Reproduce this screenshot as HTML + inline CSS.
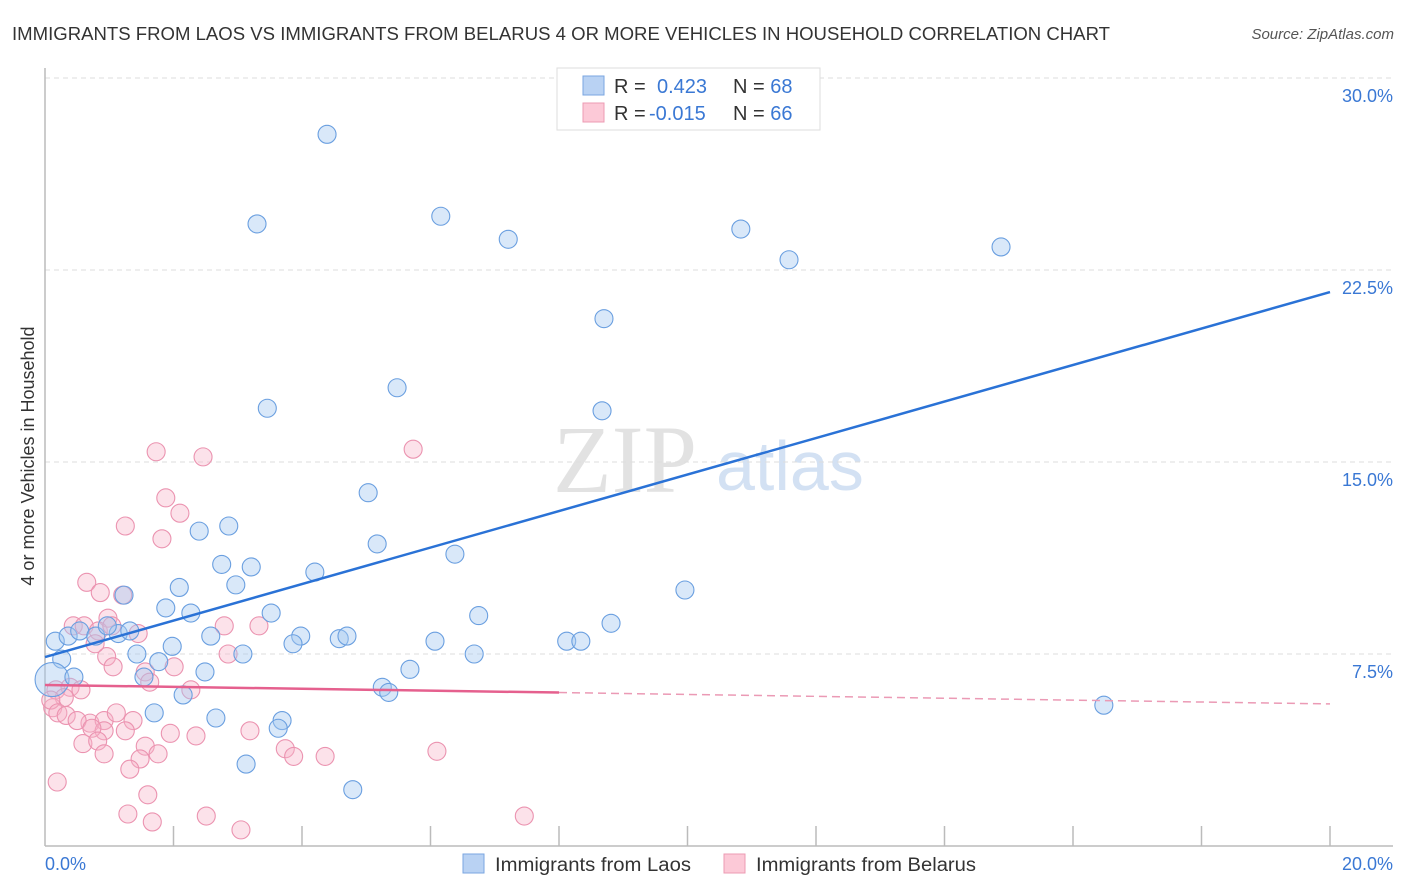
<!DOCTYPE html>
<html><head><meta charset="utf-8"><style>
body{margin:0;background:#fff;font-family:"Liberation Sans",sans-serif;}
svg{display:block}
</style></head><body>
<svg id="chart" width="1406" height="892">
<text x="12" y="40" font-size="18" fill="#333" textLength="1098" lengthAdjust="spacingAndGlyphs">IMMIGRANTS FROM LAOS VS IMMIGRANTS FROM BELARUS 4 OR MORE VEHICLES IN HOUSEHOLD CORRELATION CHART</text>
<text x="1394" y="39" font-size="15" fill="#555" font-style="italic" text-anchor="end">Source: ZipAtlas.com</text>
<g>
<text x="553" y="492" font-size="96" font-family="Liberation Serif,serif" fill="#e2e2e2">ZIP</text>
<text x="716" y="490" font-size="70" fill="#d3e1f3">atlas</text>
</g>
<g id="grid"></g><g id="axes"></g><g id="pts"></g><g id="lines"></g>
<text transform="translate(34,456) rotate(-90)" font-size="18" fill="#333" text-anchor="middle">4 or more Vehicles in Household</text>
<text x="45" y="870" font-size="18" fill="#3a78d4">0.0%</text>
<text x="1393" y="870" font-size="18" fill="#3a78d4" text-anchor="end">20.0%</text>
<g>
<rect x="557" y="68" width="263" height="62" fill="#fff" stroke="#ddd"/>
<rect x="583" y="76" width="21" height="19" fill="#b9d2f3" stroke="#7aa6e0"/>
<rect x="583" y="103" width="21" height="19" fill="#fcc9d7" stroke="#ec9bb3"/>
<text x="614" y="93" font-size="20" fill="#333">R = <tspan x="657" fill="#3a78d4">0.423</tspan><tspan x="733">N = </tspan><tspan fill="#3a78d4">68</tspan></text>
<text x="614" y="120" font-size="20" fill="#333">R = <tspan x="649" fill="#3a78d4">-0.015</tspan><tspan x="733">N = </tspan><tspan fill="#3a78d4">66</tspan></text>
</g>
<g>
<rect x="463" y="854" width="21" height="19" fill="#b9d2f3" stroke="#7aa6e0"/>
<text x="495" y="871" font-size="19" fill="#333" textLength="196" lengthAdjust="spacingAndGlyphs">Immigrants from Laos</text>
<rect x="724" y="854" width="21" height="19" fill="#fcc9d7" stroke="#ec9bb3"/>
<text x="756" y="871" font-size="19" fill="#333" textLength="220" lengthAdjust="spacingAndGlyphs">Immigrants from Belarus</text>
</g>
</svg>
<script>
const yTicks=[7.5,15,22.5,30];
const yTickLabels=["7.5%","15.0%","22.5%","30.0%"];
const laosX=[4.39,3.30,6.16,7.21,10.83,11.58,14.88,8.70,5.48,3.46,8.67,5.03,2.40,2.86,5.17,6.38,2.75,3.21,4.20,2.97,2.09,9.96,1.88,2.27,3.52,6.75,1.23,8.81,0.16,0.36,0.54,0.79,1.14,1.32,0.97,1.98,2.58,3.98,3.86,4.58,4.70,6.07,8.12,8.34,0.26,1.43,1.77,3.08,2.49,5.68,6.68,0.11,0.45,1.54,2.15,5.25,5.35,1.70,2.66,3.69,3.63,3.13,4.79,16.48];
const laosY=[27.8,24.3,24.6,23.7,24.1,22.9,23.4,20.6,17.9,17.1,17.0,13.8,12.3,12.5,11.8,11.4,11.0,10.9,10.7,10.2,10.1,10.0,9.3,9.1,9.1,9.0,9.8,8.7,8.0,8.2,8.4,8.2,8.3,8.4,8.6,7.8,8.2,8.2,7.9,8.1,8.2,8.0,8.0,8.0,7.3,7.5,7.2,7.5,6.8,6.9,7.5,6.5,6.6,6.6,5.9,6.2,6.0,5.2,5.0,4.9,4.6,3.2,2.2,5.5];
const belX=[1.73,2.46,5.73,1.88,2.10,1.25,1.82,0.65,0.86,1.21,0.98,0.44,0.61,0.83,1.45,2.79,3.33,1.04,2.85,0.96,0.78,1.06,2.01,1.56,1.63,0.17,0.39,0.56,0.30,2.27,0.12,0.09,0.20,0.33,0.70,0.50,0.92,1.11,1.37,1.25,0.92,0.73,1.95,2.35,3.19,0.59,0.82,0.92,1.56,1.48,1.76,3.74,3.87,4.36,6.10,1.32,0.19,1.60,1.29,1.67,2.51,3.05,7.46];
const belY=[15.4,15.2,15.5,13.6,13.0,12.5,12.0,10.3,9.9,9.8,8.9,8.6,8.6,8.4,8.3,8.6,8.6,8.6,7.5,7.4,7.9,7.0,7.0,6.8,6.4,6.1,6.2,6.1,5.8,6.1,5.4,5.7,5.2,5.1,4.8,4.9,4.9,5.2,4.9,4.5,4.5,4.6,4.4,4.3,4.5,4.0,4.1,3.6,3.9,3.4,3.6,3.8,3.5,3.5,3.7,3.0,2.5,2.0,1.25,0.94,1.17,0.63,1.17];
const laosTrend=[7.38,21.64];
const belTrend=[6.29,5.55];
const NS="http://www.w3.org/2000/svg";
const X=v=>45+v/20*1285, Y=v=>846-v/30*768;
function mk(t,a,p){const e=document.createElementNS(NS,t);for(const k in a)e.setAttribute(k,a[k]);document.getElementById(p).appendChild(e);return e;}
yTicks.forEach((t,i)=>{
 const g=mk('line',{x1:45,x2:1393,y1:Y(t),y2:Y(t),stroke:'#ddd','stroke-dasharray':'5,4'},'grid');
 
 
 const l=mk('text',{x:1393,y:Y(t)+24,'font-size':18,fill:'#3a78d4','text-anchor':'end'},'grid');
 l.textContent=yTickLabels[i];
 
 
});
const ax=mk('line',{x1:45,x2:45,y1:68,y2:846,stroke:'#bbb','stroke-width':1.5},'axes');


const bx=mk('line',{x1:45,x2:1393,y1:846,y2:846,stroke:'#bbb','stroke-width':1.5},'axes');


for(let i=1;i<=10;i++){
 const t=mk('line',{x1:X(i*2),x2:X(i*2),y1:826,y2:846,stroke:'#bbb','stroke-width':1.5},'axes');
 
 
}
function pts(xs,ys,fill,stroke,name){
 xs.forEach((x,i)=>{
  const r=(x<0.15&&name==='laos-point')?17:9;
  const c=mk('circle',{cx:X(x),cy:Y(ys[i]),r:r,fill:fill,stroke:stroke,'stroke-width':1.1},'pts');
  
  
 });
}
pts(belX,belY,'rgba(248,178,200,0.38)','#eb93b0','belarus-point');
pts(laosX,laosY,'rgba(165,199,240,0.42)','#6a9fe0','laos-point');
const lt=mk('line',{x1:X(0),y1:Y(laosTrend[0]),x2:X(20),y2:Y(laosTrend[1]),stroke:'#2a72d6','stroke-width':2.5},'lines');


const bMid=belTrend[0]+(belTrend[1]-belTrend[0])*8/20;
const bt=mk('line',{x1:X(0),y1:Y(belTrend[0]),x2:X(8),y2:Y(bMid),stroke:'#e5608e','stroke-width':2.5},'lines');


const bd=mk('line',{x1:X(8),y1:Y(bMid),x2:X(20),y2:Y(belTrend[1]),stroke:'#eb9ab5','stroke-width':1.5,'stroke-dasharray':'8,5'},'lines');


</script>
</body></html>
